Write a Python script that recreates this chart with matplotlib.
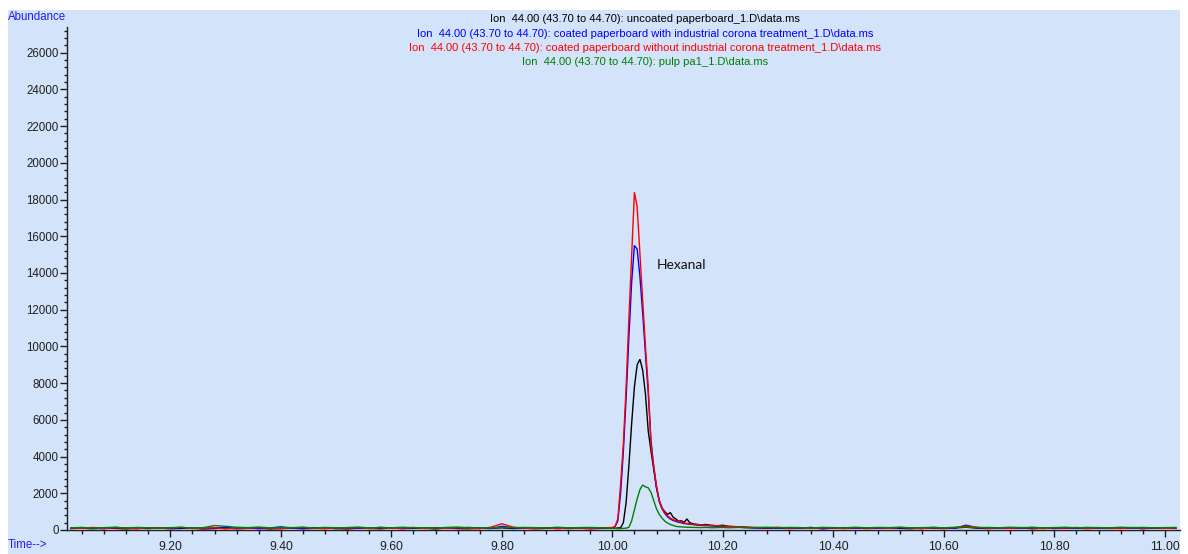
import numpy as np
import matplotlib
matplotlib.use("Agg")
import matplotlib.pyplot as plt
from matplotlib.patches import Rectangle
from matplotlib.ticker import MultipleLocator, FuncFormatter

# ---------------- data ----------------
time_min = [
    9.02, 9.04, 9.06, 9.08, 9.10, 9.12, 9.14, 9.16, 9.18, 9.20,
    9.22, 9.24, 9.26, 9.28, 9.30, 9.32, 9.34, 9.36, 9.38, 9.40,
    9.42, 9.44, 9.46, 9.48, 9.50, 9.52, 9.54, 9.56, 9.58, 9.60,
    9.62, 9.64, 9.66, 9.68, 9.70, 9.72, 9.74, 9.76, 9.78, 9.80,
    9.82, 9.84, 9.86, 9.88, 9.90, 9.92, 9.94, 9.96, 9.98, 9.99,
    10.000, 10.005, 10.010, 10.015, 10.020, 10.025, 10.030, 10.035, 10.040, 10.045,
    10.050, 10.055, 10.060, 10.065, 10.070, 10.075, 10.080, 10.085, 10.090, 10.095,
    10.100, 10.105, 10.110, 10.115, 10.120, 10.125, 10.130, 10.135, 10.140, 10.145,
    10.150, 10.16, 10.17, 10.18, 10.19, 10.20, 10.21, 10.22, 10.23, 10.24,
    10.26, 10.28, 10.30, 10.32, 10.34, 10.36, 10.38, 10.40, 10.42, 10.44,
    10.46, 10.48, 10.50, 10.52, 10.54, 10.56, 10.58, 10.60, 10.62, 10.64,
    10.66, 10.68, 10.70, 10.72, 10.74, 10.76, 10.78, 10.80, 10.82, 10.84,
    10.86, 10.88, 10.90, 10.92, 10.94, 10.96, 10.98, 11.00, 11.02,
]

uncoated = [  # black
    80, 100, 70, 110, 90, 60, 100, 80, 110, 70,
    90, 100, 60, 80, 110, 70, 90, 100, 60, 80,
    100, 70, 90, 110, 80, 60, 100, 90, 70, 110,
    80, 90, 100, 60, 110, 80, 70, 100, 90, 120,
    80, 100, 70, 90, 110, 80, 100, 70, 90, 100,
    100, 90, 110, 120, 400, 1500, 3500, 5800, 7800, 9000,
    9300, 8700, 7400, 5400, 4300, 3300, 2300, 1600, 1200, 1000,
    850, 950, 700, 600, 480, 500, 420, 600, 400, 350,
    320, 280, 300, 250, 230, 260, 200, 180, 170, 150,
    120, 90, 110, 80, 100, 130, 70, 100, 90, 110,
    80, 100, 120, 90, 70, 110, 100, 80, 110, 150,
    100, 80, 110, 90, 120, 70, 100, 130, 90, 100,
    80, 110, 90, 100, 120, 80, 100, 110, 90,
]

coated_corona = [  # blue
    90, 130, 100, 70, 140, 110, 80, 120, 100, 90,
    130, 100, 80, 110, 140, 90, 120, 70, 110, 170,
    100, 90, 130, 110, 80, 120, 100, 90, 140, 110,
    80, 120, 100, 130, 90, 110, 140, 100, 80, 200,
    120, 90, 110, 130, 80, 100, 120, 90, 110, 120,
    120, 180, 500, 2000, 4300, 7200, 10500, 13500, 15500, 15300,
    13800, 11800, 9600, 7500, 4900, 3400, 2300, 1550, 1150, 900,
    720, 600, 520, 470, 420, 390, 350, 340, 310, 300,
    280, 250, 240, 220, 210, 190, 180, 160, 150, 140,
    110, 130, 90, 120, 100, 140, 80, 110, 130, 100,
    120, 90, 110, 130, 100, 80, 140, 110, 90, 260,
    130, 110, 90, 120, 100, 140, 110, 80, 120, 100,
    130, 100, 90, 120, 110, 80, 130, 100, 120,
]

coated_no_corona = [  # red
    110, 90, 140, 80, 120, 100, 70, 130, 90, 110,
    150, 80, 100, 120, 60, 110, 90, 130, 100, 80,
    120, 140, 90, 70, 110, 100, 130, 80, 120, 90,
    100, 140, 80, 110, 90, 120, 100, 70, 150, 340,
    160, 100, 90, 120, 80, 110, 100, 90, 120, 130,
    130, 200, 600, 2500, 4700, 7800, 11500, 15000, 18400, 17600,
    15000, 12500, 10000, 7800, 4600, 3500, 2400, 1600, 1200, 950,
    780, 650, 560, 520, 450, 420, 380, 360, 330, 320,
    300, 280, 260, 250, 230, 220, 200, 190, 170, 160,
    140, 120, 150, 100, 130, 90, 120, 110, 80, 130,
    100, 120, 90, 140, 110, 80, 120, 100, 130, 220,
    150, 100, 120, 90, 130, 110, 80, 120, 100, 140,
    90, 120, 110, 80, 130, 100, 120, 90, 110,
]

pulp = [  # green
    120, 140, 100, 130, 150, 110, 140, 120, 100, 130,
    140, 110, 130, 240, 200, 150, 130, 160, 120, 140,
    130, 150, 110, 140, 120, 130, 160, 110, 140, 120,
    150, 120, 130, 110, 140, 160, 120, 130, 110, 140,
    120, 140, 130, 110, 150, 120, 130, 140, 120, 110,
    80, 90, 70, 80, 90, 100, 150, 500, 1100, 1700,
    2200, 2450, 2350, 2300, 2050, 1600, 1150, 850, 650, 480,
    380, 300, 250, 200, 180, 170, 160, 150, 150, 140,
    140, 130, 140, 120, 130, 140, 120, 130, 140, 120,
    130, 150, 120, 140, 130, 110, 140, 130, 120, 150,
    120, 140, 130, 150, 120, 130, 140, 120, 150, 160,
    130, 140, 120, 150, 130, 140, 120, 130, 150, 120,
    140, 130, 120, 150, 130, 140, 120, 130, 140,
]

series_labels = [
    "Ion  44.00 (43.70 to 44.70): uncoated paperboard_1.D\\data.ms",
    "Ion  44.00 (43.70 to 44.70): coated paperboard with industrial corona treatment_1.D\\data.ms",
    "Ion  44.00 (43.70 to 44.70): coated paperboard without industrial corona treatment_1.D\\data.ms",
    "Ion  44.00 (43.70 to 44.70): pulp pa1_1.D\\data.ms",
]
series_colors = ["#000000", "#0000FF", "#FF0000", "#008000"]
peak_label = "Hexanal"

# ---------------- figure ----------------
W, H = 1188, 554
BG = "#D3E3FA"
plt.rcParams["font.family"] = ["Liberation Sans", "DejaVu Sans"]

fig = plt.figure(figsize=(W / 100, H / 100), dpi=100)
fig.patch.set_facecolor("white")
fig.patches.append(Rectangle((8 / W, 0), (1180 - 8) / W, (H - 10) / H,
                             transform=fig.transFigure, facecolor=BG,
                             edgecolor="none", zorder=-10))

ax = fig.add_axes([67 / W, (H - 530) / H, (1180 - 67) / W, (530 - 27) / H])
ax.set_zorder(5)
ax.patch.set_visible(False)

t = np.array(time_min)
for y, c in zip([uncoated, coated_corona, coated_no_corona, pulp], series_colors):
    ax.plot(t, np.array(y), color=c, lw=1.0, solid_joinstyle="miter")

ax.set_xlim(9.013, 11.0275)
ax.set_ylim(0, 27400)

for s in ["top", "right"]:
    ax.spines[s].set_visible(False)
for s in ["left", "bottom"]:
    ax.spines[s].set_color("#202020")
    ax.spines[s].set_linewidth(1.0)

ax.xaxis.set_major_locator(MultipleLocator(0.2))
ax.xaxis.set_minor_locator(MultipleLocator(0.04))
ax.yaxis.set_major_locator(MultipleLocator(2000))
ax.yaxis.set_minor_locator(MultipleLocator(400))
ax.xaxis.set_major_formatter(FuncFormatter(lambda v, p: f"{v:.2f}"))
ax.yaxis.set_major_formatter(FuncFormatter(lambda v, p: f"{int(round(v))}"))

ax.tick_params(axis="x", which="major", length=5, width=1, color="#202020",
               labelsize=8.8, pad=3, labelcolor="#202020")
ax.tick_params(axis="x", which="minor", length=3, width=1, color="#202020")
ax.tick_params(axis="y", which="major", length=5, width=1, color="#202020",
               labelsize=8.3, pad=1, labelcolor="#202020")
ax.tick_params(axis="y", which="minor", length=2.5, width=1, color="#202020")

# titles
ys = [19, 34, 48, 62]
for lab, c, yy in zip(series_labels, series_colors, ys):
    fig.text(645 / W, 1 - yy / H, lab, color=c, ha="center", va="center",
             fontsize=8.0)

fig.text(8 / W, 1 - 17 / H, "Abundance", color="#2020F0", ha="left",
         va="center", fontsize=8.3)
fig.text(8 / W, 1 - 545 / H, "Time-->", color="#2020F0", ha="left",
         va="center", fontsize=8.3)

ax.text(10.081, 14440, peak_label, fontsize=10, family=["Lato", "DejaVu Sans"],
        color="#101010", ha="left", va="center")

fig.savefig("out.png", dpi=100, facecolor="white")
